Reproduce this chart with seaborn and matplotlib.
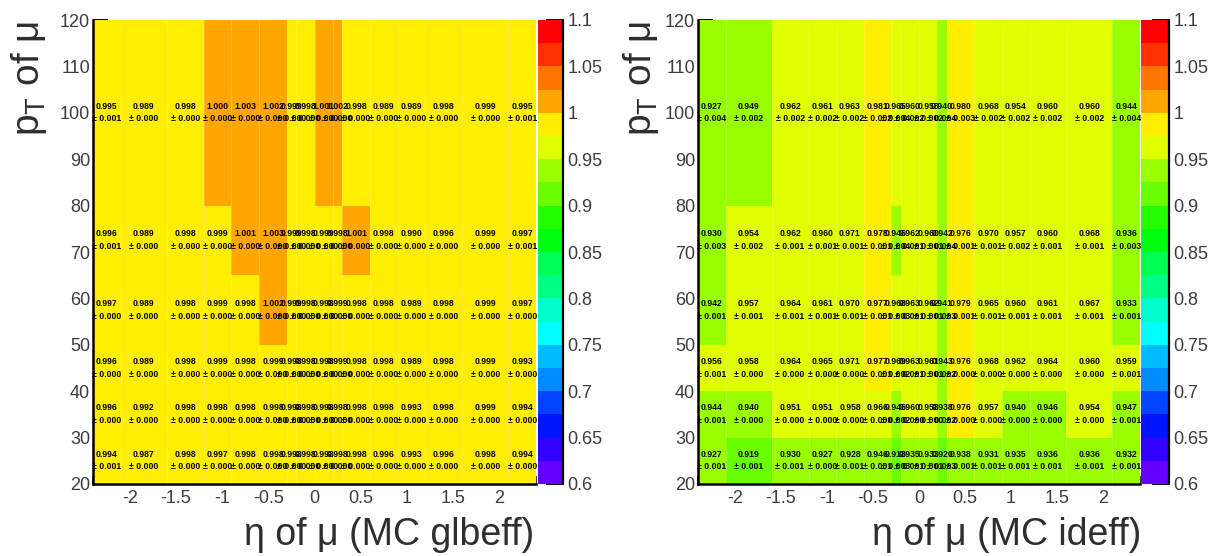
import colorsys

import matplotlib
matplotlib.use("Agg")
import matplotlib.pyplot as plt
import numpy as np
import seaborn as sns
from matplotlib.colors import BoundaryNorm, ListedColormap
from matplotlib.ticker import FixedFormatter, FixedLocator, MultipleLocator

# ---------------------------------------------------------------- binning
eta_edges = [-2.4, -2.1, -1.6, -1.2, -0.9, -0.6, -0.3, -0.2, 0.0,
             0.2, 0.3, 0.6, 0.9, 1.2, 1.6, 2.1, 2.4]
pt_edges = [20, 30, 40, 50, 65, 80, 120]

# ---------------------------------------------------------------- efficiencies
# one row per pT bin (lowest first), one column per eta bin
glbeff_vals = [
    [0.994, 0.987, 0.998, 0.997, 0.998, 0.998, 0.998, 0.998, 0.998, 0.998, 0.998, 0.996, 0.993, 0.996, 0.998, 0.994],
    [0.996, 0.992, 0.998, 0.998, 0.998, 0.998, 0.998, 0.998, 0.998, 0.998, 0.998, 0.998, 0.993, 0.998, 0.999, 0.994],
    [0.996, 0.989, 0.998, 0.999, 0.998, 0.999, 0.998, 0.998, 0.998, 0.999, 0.998, 0.998, 0.989, 0.998, 0.999, 0.993],
    [0.997, 0.989, 0.998, 0.999, 0.998, 1.002, 0.999, 0.998, 0.998, 0.999, 0.998, 0.998, 0.989, 0.998, 0.999, 0.997],
    [0.996, 0.989, 0.998, 0.999, 1.001, 1.003, 0.999, 0.998, 0.999, 0.998, 1.001, 0.998, 0.990, 0.996, 0.999, 0.997],
    [0.995, 0.989, 0.998, 1.000, 1.003, 1.002, 0.999, 0.998, 1.001, 1.002, 0.998, 0.989, 0.989, 0.998, 0.999, 0.995],
]
glbeff_errs = [
    [0.001, 0.000, 0.000, 0.000, 0.000, 0.000, 0.000, 0.000, 0.000, 0.000, 0.000, 0.000, 0.000, 0.000, 0.000, 0.000],
    [0.000, 0.000, 0.000, 0.000, 0.000, 0.000, 0.000, 0.000, 0.000, 0.000, 0.000, 0.000, 0.000, 0.000, 0.000, 0.000],
    [0.000, 0.000, 0.000, 0.000, 0.000, 0.000, 0.000, 0.000, 0.000, 0.000, 0.000, 0.000, 0.000, 0.000, 0.000, 0.000],
    [0.000, 0.000, 0.000, 0.000, 0.000, 0.000, 0.000, 0.000, 0.000, 0.000, 0.000, 0.000, 0.000, 0.000, 0.000, 0.000],
    [0.001, 0.000, 0.000, 0.000, 0.000, 0.000, 0.000, 0.000, 0.000, 0.000, 0.000, 0.000, 0.000, 0.000, 0.000, 0.001],
    [0.001, 0.000, 0.000, 0.000, 0.000, 0.000, 0.000, 0.000, 0.000, 0.000, 0.000, 0.000, 0.000, 0.000, 0.000, 0.001],
]
ideff_vals = [
    [0.927, 0.919, 0.930, 0.927, 0.928, 0.946, 0.918, 0.935, 0.933, 0.920, 0.938, 0.931, 0.935, 0.936, 0.936, 0.932],
    [0.944, 0.940, 0.951, 0.951, 0.958, 0.966, 0.946, 0.960, 0.958, 0.938, 0.976, 0.957, 0.940, 0.946, 0.954, 0.947],
    [0.956, 0.958, 0.964, 0.965, 0.971, 0.977, 0.969, 0.963, 0.961, 0.943, 0.976, 0.968, 0.962, 0.964, 0.960, 0.959],
    [0.942, 0.957, 0.964, 0.961, 0.970, 0.977, 0.968, 0.963, 0.962, 0.941, 0.979, 0.965, 0.960, 0.961, 0.967, 0.933],
    [0.930, 0.954, 0.962, 0.960, 0.971, 0.978, 0.946, 0.962, 0.960, 0.942, 0.976, 0.970, 0.957, 0.960, 0.968, 0.936],
    [0.927, 0.949, 0.962, 0.961, 0.963, 0.981, 0.965, 0.960, 0.958, 0.940, 0.980, 0.968, 0.954, 0.960, 0.960, 0.944],
]
ideff_errs = [
    [0.001, 0.001, 0.001, 0.000, 0.001, 0.001, 0.003, 0.001, 0.001, 0.003, 0.001, 0.001, 0.001, 0.001, 0.001, 0.001],
    [0.001, 0.000, 0.000, 0.000, 0.000, 0.000, 0.002, 0.000, 0.000, 0.002, 0.000, 0.000, 0.000, 0.000, 0.000, 0.001],
    [0.001, 0.000, 0.000, 0.000, 0.000, 0.001, 0.002, 0.001, 0.001, 0.002, 0.000, 0.000, 0.000, 0.000, 0.000, 0.001],
    [0.001, 0.001, 0.001, 0.001, 0.001, 0.001, 0.003, 0.001, 0.001, 0.003, 0.001, 0.001, 0.001, 0.001, 0.001, 0.001],
    [0.003, 0.002, 0.001, 0.001, 0.001, 0.001, 0.004, 0.001, 0.001, 0.004, 0.001, 0.001, 0.002, 0.001, 0.001, 0.003],
    [0.004, 0.002, 0.002, 0.002, 0.002, 0.002, 0.004, 0.002, 0.002, 0.004, 0.003, 0.002, 0.002, 0.002, 0.002, 0.004],
]

x_titles = ["η of μ (MC glbeff)", "η of μ (MC ideff)"]
y_title = "p$_{\\mathregular{T}}$ of μ"
z_ticks = [0.6, 0.65, 0.7, 0.75, 0.8, 0.85, 0.9, 0.95, 1.0, 1.05, 1.1]
z_tick_labels = ["0.6", "0.65", "0.7", "0.75", "0.8", "0.85", "0.9", "0.95", "1", "1.05", "1.1"]
x_ticks = [-2, -1.5, -1, -0.5, 0, 0.5, 1, 1.5, 2]
x_tick_labels = ["-2", "-1.5", "-1", "-0.5", "0", "0.5", "1", "1.5", "2"]

# ---------------------------------------------------------------- style
sns.set_theme(style="white")
plt.rcParams["font.family"] = ["Liberation Sans", "DejaVu Sans"]
plt.rcParams["mathtext.fontset"] = "custom"
plt.rcParams["mathtext.rm"] = "Liberation Sans"
plt.rcParams["axes.unicode_minus"] = False

LABEL_GREY = "#3c3c3c"
TITLE_GREY = "#2e2e2e"

# "pretty" rainbow palette: 50 hues, sampled into 20 contour levels
n_levels, n_colors = 20, 50
z_min, z_max = 0.6, 1.1
level_colors = []
for lev in range(n_levels):
    idx = int((lev + 0.99) * n_colors / n_levels)
    hue = 280.0 - (idx + 1) * (280.0 / n_colors)
    level_colors.append(colorsys.hls_to_rgb(hue / 360.0, 0.5, 1.0))
cmap = ListedColormap(level_colors)
norm = BoundaryNorm(np.linspace(z_min, z_max, n_levels + 1), n_levels)

W, H = 1208, 556
fig = plt.figure(figsize=(W / 100, H / 100), dpi=100)


def px_box(x0, x1, y0, y1):
    """Figure-fraction rectangle from pixel extents (y measured from top)."""
    return [x0 / W, 1 - y1 / H, (x1 - x0) / W, (y1 - y0) / H]


panels = [
    dict(ax=px_box(93, 536, 20, 484), cax=px_box(538, 563, 20, 484),
         ytitle_x=29, xtitle_x=534, vals=glbeff_vals, errs=glbeff_errs, title=x_titles[0]),
    dict(ax=px_box(698, 1140, 20, 484), cax=px_box(1141, 1169, 20, 484),
         ytitle_x=641, xtitle_x=1141, vals=ideff_vals, errs=ideff_errs, title=x_titles[1]),
]

eta_c = 0.5 * (np.array(eta_edges[:-1]) + np.array(eta_edges[1:]))
pt_c = 0.5 * (np.array(pt_edges[:-1]) + np.array(pt_edges[1:]))

for p in panels:
    ax = fig.add_axes(p["ax"])
    cax = fig.add_axes(p["cax"])
    vals = np.array(p["vals"])
    errs = np.array(p["errs"])

    mesh = ax.pcolormesh(eta_edges, pt_edges, vals, cmap=cmap, norm=norm,
                         shading="flat", edgecolors="face", linewidth=0)
    # faint seams between eta bins
    ax.vlines(eta_edges[1:-1], pt_edges[0], pt_edges[-1], colors="white",
              linewidth=0.7, alpha=0.2)

    # bin contents: value above the centre, uncertainty below
    for j, yc in enumerate(pt_c):
        for i, xc in enumerate(eta_c):
            ax.annotate(f"{vals[j, i]:.3f}", (xc, yc), xytext=(0, 4.8),
                        textcoords="offset points", ha="center", va="center",
                        fontsize=6.2, color="black", fontweight="bold",
                        annotation_clip=False)
            ax.annotate(f"± {errs[j, i]:.3f}", (xc, yc), xytext=(0, -4.4),
                        textcoords="offset points", ha="center", va="center",
                        fontsize=6.2, color="black", fontweight="bold",
                        annotation_clip=False)

    ax.set_xlim(eta_edges[0], eta_edges[-1])
    ax.set_ylim(pt_edges[0], pt_edges[-1])
    ax.xaxis.set_major_locator(FixedLocator(x_ticks))
    ax.xaxis.set_major_formatter(FixedFormatter(x_tick_labels))
    ax.xaxis.set_minor_locator(MultipleLocator(0.1))
    ax.yaxis.set_major_locator(MultipleLocator(10))
    ax.yaxis.set_minor_locator(MultipleLocator(2))
    ax.tick_params(which="both", direction="in", color="black",
                   labelcolor=LABEL_GREY, labelsize=13,
                   top=False, right=False, bottom=True, left=True)
    ax.tick_params(which="major", length=11, width=1.4)
    ax.tick_params(which="minor", length=5.5, width=1.1)
    ax.tick_params(axis="x", which="major", pad=4)
    ax.tick_params(axis="y", which="major", pad=2)
    for side in ("top", "right"):
        ax.spines[side].set_visible(False)
    for side in ("left", "bottom"):
        ax.spines[side].set_color("black")
        ax.spines[side].set_linewidth(1.8)

    cb = fig.colorbar(mesh, cax=cax, ticks=z_ticks)
    cb.ax.yaxis.set_major_formatter(FixedFormatter(z_tick_labels))
    cb.minorticks_off()
    cb.outline.set_visible(False)
    cax.tick_params(direction="in", length=12, width=1.4, color="black",
                    labelcolor=LABEL_GREY, labelsize=13, pad=3)
    cax.plot([1, 1], [0, 1], transform=cax.transAxes, color="black",
             linewidth=1.6, clip_on=False)

    fig.text(p["ytitle_x"] / W, 1 - 21 / H, y_title, rotation=90,
             ha="center", va="top", fontsize=28, color=TITLE_GREY)
    fig.text(p["xtitle_x"] / W, 1 - 553 / H, p["title"],
             ha="right", va="bottom", fontsize=27, color=TITLE_GREY)

fig.savefig("out.png", dpi=100, facecolor="white")
